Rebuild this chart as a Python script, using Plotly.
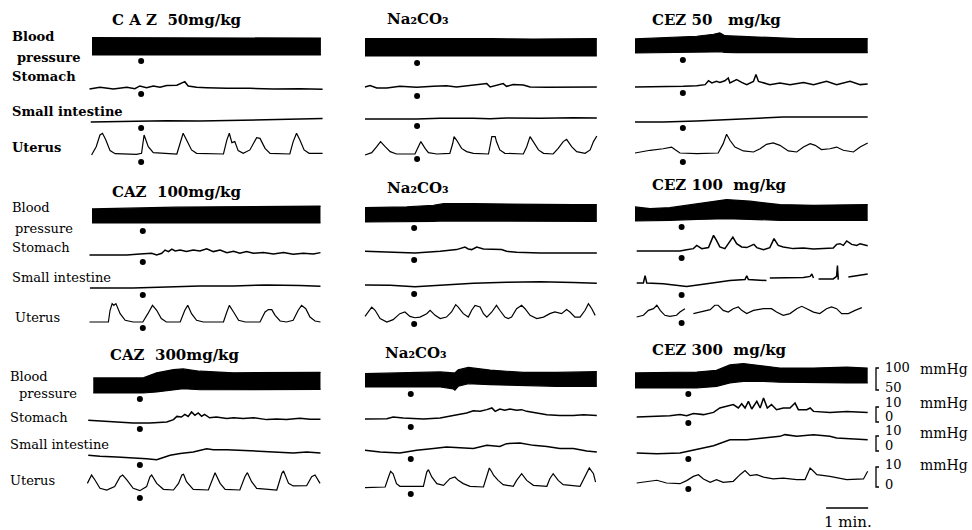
import plotly.graph_objects as go

W, H = 972, 530
FONT = "DejaVu Serif"

# ---------------- data (time in min, pressure in mmHg) ----------------
TITLES = ["C A Z  50mg/kg", "Na₂CO₃", "CEZ 50   mg/kg",
          "CAZ  100mg/kg", "Na₂CO₃", "CEZ 100  mg/kg",
          "CAZ  300mg/kg", "Na₂CO₃", "CEZ 300  mg/kg"]
ROW_LABELS = ["Blood", "pressure", "Stomach", "Small intestine", "Uterus"]
INJ_T = [1.17, 1.24, 1.14, 1.21, 1.17, 1.11, 1.14, 1.09, 1.27]

# CAZ 50 mg/kg
P11_BP_T = [0, 1.0, 2.0, 3.0, 4.0, 5.45]
P11_BP_TOP = [108, 108, 109, 108, 108, 107]
P11_BP_BOT = [60, 60, 60, 60, 60, 60]
P11_ST_T = [-0.06, 0.19, 0.51, 0.83, 1.02, 1.14, 1.30, 1.46, 1.62, 1.78, 2.02, 2.21, 2.29, 2.49, 2.73, 3.21, 3.76, 4.32, 4.95, 5.49]
P11_ST_V = [0, 1.0, 0, 1.0, 0.2, 1.8, 0.8, 1.8, 1.0, 2.0, 2.2, 4.3, 1.8, 1.0, 0.8, 0.4, 0.4, 0, 0.2, -0.2]
P11_SI_T = [-0.03, 0.98, 1.78, 2.57, 3.37, 4.16, 4.95, 5.49]
P11_SI_V = [0, 0.4, 0.8, 0.6, 1.0, 1.2, 1.6, 2.0]
P11_UT_T = [-0.01, 0.10, 0.19, 0.25, 0.33, 0.43, 0.55, 1.06, 1.18, 1.24, 1.34, 1.46, 2.02, 2.10, 2.17, 2.27, 2.37, 2.49,
            3.13, 3.21, 3.27, 3.33, 3.40, 3.48, 3.60, 3.76, 3.92, 4.00, 4.12, 4.24, 4.71, 4.79, 4.87, 4.95, 5.05, 5.17, 5.49]
P11_UT_V = [-0.6, 4.3, 11.2, 12.2, 8.2, 2.0, 0.2, -0.2, 0.4, 11.2, 4.3, 0.8, 0, 6.3, 12.2, 7.3, 2.4, 0.4,
            0, 8.2, 12.2, 6.7, 7.3, 2.0, 0.4, 2.4, 9.6, 9.2, 3.3, 0.4, 0, 7.3, 12.2, 8.2, 2.4, 0.4, 0.4]

# Na2CO3 (top)
P12_BP_T = [0, 1, 2, 3, 4, 5.52]
P12_BP_TOP = [108, 107, 108, 108, 107, 108]
P12_BP_BOT = [60, 60, 60, 60, 61, 60]
P12_ST_T = [0, 0.12, 0.28, 0.52, 0.83, 1.23, 1.63, 1.94, 2.18, 2.42, 2.66, 2.90, 2.98, 3.10, 3.29, 3.37, 3.53, 3.77, 3.93, 4.33, 4.96, 5.52]
P12_ST_V = [0, 0.8, -0.6, -0.6, 0.4, -0.2, 0.4, 0.8, 0, 0.8, 1.2, 2.0, 0, 0.8, 2.0, 0.4, 1.4, 1.2, 0, -0.2, 0, 0]
P12_SI_T = [0, 0.6, 1.23, 1.79, 2.18, 2.58, 2.98, 3.37, 4.17, 4.96, 5.52]
P12_SI_V = [0, -0.2, 0, 0.4, 0.6, 0.4, 0.2, 0.6, 0.4, 0.8, 0.6]
P12_UT_T = [0, 0.16, 0.28, 0.37, 0.48, 0.6, 0.75, 1.19, 1.25, 1.33, 1.43, 1.51, 1.71, 2.02, 2.09, 2.12, 2.18, 2.30, 2.42, 2.58,
            2.94, 2.98, 3.02, 3.10, 3.13, 3.21, 3.33, 3.77, 3.85, 3.93, 4.01, 4.13, 4.25, 4.48, 4.60, 4.72, 4.80, 4.92, 5.04,
            5.24, 5.36, 5.44, 5.52]
P12_UT_V = [-0.6, 0.8, 4.3, 7.3, 4.3, 1.4, 0, 0, 3.3, 7.3, 3.3, 0.8, 0, 0.4, 6.3, 10.2, 8.2, 3.3, 1.4, 0.4,
            0, 4.3, 10.2, 10.2, 7.3, 2.4, 0.4, 0, 4.3, 10.2, 7.3, 2.4, 0.4, 0, 3.3, 7.3, 8.6, 4.3, 1.4,
            0.4, 2.4, 7.3, 10.6]

# CEZ 50 mg/kg
P13_BP_T = [0, 0.67, 1.47, 1.87, 2.02, 2.14, 2.42, 3.06, 3.85, 4.64, 5.54]
P13_BP_TOP = [99, 102, 106.5, 112, 116, 108, 106.5, 103, 100, 100, 100]
P13_BP_BOT = [60, 61, 61, 63, 64, 62, 61, 61, 61, 61, 61]
P13_ST_T = [0, 0.36, 0.83, 1.15, 1.47, 1.67, 1.75, 1.83, 1.94, 2.02, 2.14, 2.22, 2.26, 2.42, 2.54, 2.66, 2.82, 2.88, 2.94,
            3.06, 3.21, 3.45, 3.69, 4.01, 4.25, 4.56, 4.80, 5.12, 5.36, 5.54]
P13_ST_V = [0, 0, 0, 0.4, 0.8, 1.4, 3.7, 2.4, 3.3, 2.7, 3.7, 5.3, 2.4, 4.3, 2.7, 1.4, 3.3, 7.3, 3.3,
            2.4, 1.4, 2.4, 1.4, 2.7, 1.4, 3.3, 1.4, 3.3, 1.4, 1.8]
P13_SI_T = [0, 0.67, 1.47, 2.26, 3.06, 3.53, 4.25, 5.04, 5.54]
P13_SI_V = [0, 0, 0.6, 1.4, 2.0, 2.9, 2.9, 2.9, 2.9]
P13_UT_T = [0, 0.36, 0.67, 0.87, 0.95, 1.07, 1.47, 1.98, 2.10, 2.18, 2.26, 2.38, 2.58, 2.82, 2.98, 3.13, 3.29, 3.45, 3.65,
            3.85, 4.01, 4.17, 4.29, 4.44, 4.64, 4.80, 4.96, 5.20, 5.36, 5.54]
P13_UT_V = [0, 1.6, 2.5, 3.5, 2.0, 0, -0.4, 0, 5.5, 11.0, 7.5, 3.5, 1.2, 0.6, 2.5, 5.1, 5.9, 4.5, 1.2,
            0.6, 3.5, 5.5, 4.5, 2.0, 2.5, 3.5, 1.6, 0.6, 3.5, 5.9]

# CAZ 100 mg/kg
P21_BP_T = [0, 1, 2, 3, 4, 5.44]
P21_BP_TOP = [99, 102, 104, 105, 106, 107]
P21_BP_BOT = [60, 60, 60, 60, 60, 60]
P21_ST_T = [-0.06, 0.35, 0.83, 1.14, 1.42, 1.54, 1.66, 1.74, 1.82, 1.90, 1.98, 2.10, 2.25, 2.41, 2.57, 2.73, 2.89, 3.05,
            3.21, 3.37, 3.52, 3.68, 3.84, 4.08, 4.32, 4.56, 4.79, 5.03, 5.27, 5.44]
P21_ST_V = [0, 0, 0, 0.6, 1.0, 0, 1.0, 2.9, 2.0, 3.5, 2.4, 2.9, 2.0, 2.9, 2.4, 3.7, 2.0, 2.9,
            1.4, 2.2, 1.0, 2.0, 1.0, 1.4, 0.6, 1.4, 0.4, 1.0, 0.6, 1.4]
P21_SI_T = [-0.05, 0.98, 1.78, 2.57, 3.37, 4.16, 4.95, 5.44]
P21_SI_V = [0, 0, 0.6, 1.2, 1.2, 1.8, 1.4, 1.0]
P21_UT_T = [-0.06, 0.39, 0.43, 0.48, 0.52, 0.57, 0.67, 0.79, 0.98, 1.21, 1.33, 1.44, 1.54, 1.65, 1.77, 2.10, 2.21, 2.28,
            2.37, 2.49, 2.65, 3.13, 3.21, 3.27, 3.37, 3.49, 3.65, 4.0, 4.12, 4.20, 4.28, 4.36, 4.48, 4.63, 4.79, 4.91,
            4.99, 5.09, 5.19, 5.31, 5.44]
P21_UT_V = [0, 0, 6.9, 10.8, 9.8, 10.8, 4.9, 1.0, 0, 0, 4.9, 9.8, 6.9, 2.0, 0, 0, 6.9, 9.8,
            4.9, 1.0, 0, 0, 5.9, 9.8, 5.9, 1.0, 0, 0, 5.9, 7.3, 7.3, 3.9, 0.6, 0, 1.0, 6.9,
            9.8, 7.8, 2.9, 0.6, 0]

# Na2CO3 (middle)
P22_BP_T = [0, 0.99, 1.63, 1.87, 2.58, 3.37, 4.17, 4.96, 5.52]
P22_BP_TOP = [100, 102, 106.5, 111, 111, 109, 109, 108, 108]
P22_BP_BOT = [60, 60, 62, 63, 63, 62, 62, 62, 62]
P22_ST_T = [0, 0.6, 1.19, 1.79, 2.18, 2.38, 2.46, 2.54, 2.66, 2.82, 3.06, 3.25, 3.37, 3.61, 4.17, 4.96, 5.52]
P22_ST_V = [1.0, 0.6, 0, 1.0, 2.0, 3.5, 2.4, 2.0, 3.5, 2.4, 2.0, 2.0, 1.0, 0.4, 0, 0, 0]
P22_SI_T = [0, 0.6, 1.19, 1.79, 2.58, 3.37, 3.77, 4.17, 4.96, 5.52]
P22_SI_V = [0.6, 0.4, -0.4, 0.6, 1.6, 2.2, 2.5, 2.5, 2.0, 1.6]
P22_UT_T = [0, 0.16, 0.24, 0.36, 0.52, 0.67, 0.83, 0.95, 1.07, 1.19, 1.31, 1.47, 1.55, 1.67, 1.79, 1.94, 2.06, 2.16,
            2.22, 2.34, 2.46, 2.54, 2.62, 2.74, 2.82, 2.90, 3.02, 3.10, 3.13, 3.21, 3.33, 3.41, 3.49, 3.61, 3.73,
            3.81, 3.93, 4.09, 4.25, 4.40, 4.52, 4.68, 4.80, 4.88, 5.00, 5.12, 5.24, 5.32, 5.40, 5.48]
P22_UT_V = [3.3, 8.8, 6.9, 2.0, 0, 1.4, 4.9, 5.9, 3.3, 2.5, 2.9, 4.9, 6.9, 3.9, 2.0, 2.9, 5.9, 10.2,
            8.8, 4.9, 2.9, 6.9, 9.8, 8.8, 4.9, 2.9, 5.9, 8.8, 9.8, 6.9, 2.9, 2.0, 2.9, 7.8, 9.8,
            7.8, 3.9, 2.0, 2.9, 4.9, 5.9, 4.9, 7.3, 5.9, 2.9, 2.9, 6.9, 10.8, 7.8, 3.9]

# CEZ 100 mg/kg
P23_BP_T = [0, 0.36, 0.83, 1.47, 2.18, 2.74, 3.45, 4.25, 5.04, 5.54]
P23_BP_TOP = [99, 94.4, 97, 108, 119.5, 115, 105.5, 103.5, 104.5, 105.5]
P23_BP_BOT = [60, 60, 62, 64.5, 66.5, 64.5, 62, 62, 62, 62]
P23_ST_T = [0.04, 0.52, 0.91, 1.07, 1.23, 1.39, 1.47, 1.59, 1.75, 1.87, 1.94, 2.02, 2.14, 2.26, 2.33, 2.42, 2.54, 2.66,
            2.74, 2.83, 2.90, 3.06, 3.21, 3.31, 3.41, 3.53, 3.77, 4.01, 4.25, 4.48, 4.72, 4.80, 4.88, 4.96, 5.04,
            5.16, 5.28, 5.36, 5.54]
P23_ST_V = [0, 0, 0.4, 0, 0.8, 1.4, 3.3, 1.4, 2.0, 9.2, 6.3, 2.4, 1.4, 5.3, 8.2, 4.3, 2.4, 2.0,
            2.7, 3.9, 2.0, 0.8, 2.0, 7.3, 3.3, 2.4, 1.4, 1.8, 1.2, 1.4, 1.8, 3.9, 4.3, 3.3, 5.9,
            3.9, 3.3, 4.3, 3.1]
P23_SI_T = [0.04, 0.2, 0.24, 0.28, 0.67, 1.23, 1.71, 2.26, 2.62, 2.66, 2.70, 3.13, None, 3.21, 3.69, 4.01, 4.17,
            4.21, 4.25, None, 4.37, 4.72, 4.80, 4.82, 4.84, None, 5.08, 5.28, 5.54]
P23_SI_V = [0, 0, 4.3, 0, -0.4, -2.0, -0.4, 1.4, 2.0, 4.3, 2.0, 1.4, None, 2.9, 3.3, 3.3, 3.9,
            5.3, 2.9, None, 2.4, 2.4, 3.9, 10.2, 2.0, None, 3.5, 4.3, 5.3]
P23_UT_T = [0.04, 0.2, 0.32, 0.44, 0.52, 0.60, 0.71, 0.83, 0.99, 1.07, 1.19, None, 1.39, 1.55, 1.79, 1.90, 1.98,
            2.10, 2.22, 2.34, 2.46, 2.54, 2.66, 2.82, 3.06, 3.25, 3.37, 3.53, 3.69, 3.85, 3.97, 4.09, 4.25,
            4.40, 4.56, 4.68, 4.80, 4.92, 5.08, 5.24, 5.40]
P23_UT_V = [0, 1.0, 3.9, 4.9, 6.9, 3.9, 1.0, 0.4, 1.0, 2.9, 4.9, None, 2.0, 2.9, 4.3, 6.9, 6.9,
            3.9, 2.9, 4.9, 5.9, 3.9, 2.0, 3.9, 4.9, 4.9, 2.9, 1.0, 2.0, 4.9, 6.3, 4.9, 2.9,
            2.0, 4.9, 5.9, 4.9, 2.0, 2.0, 3.9, 5.5]

# CAZ 300 mg/kg
P31_BP_T = [0.03, 0.59, 1.22, 1.54, 1.94, 2.17, 2.57, 3.37, 4.16, 5.44]
P31_BP_TOP = [102, 102, 102, 116, 125, 127, 120.5, 116, 116, 117.5]
P31_BP_BOT = [60, 60, 60, 63, 70, 72, 69, 69, 69, 70]
P31_ST_T = [-0.09, 0.19, 0.59, 0.98, 1.38, 1.78, 1.94, 2.02, 2.13, 2.21, 2.29, 2.37, 2.45, 2.53, 2.61, 2.68, 2.80,
            2.96, 3.21, 3.37, 3.60, 3.84, 4.16, 4.40, 4.63, 4.95, 5.19, 5.44]
P31_ST_V = [1.0, 0.6, 0, -0.6, -0.6, 0, 1.4, 3.3, 2.9, 4.5, 3.3, 5.9, 3.9, 5.3, 3.3, 4.5, 2.5,
            2.9, 2.0, 2.5, 2.0, 2.5, 1.4, 1.8, 1.4, 2.2, 1.6, 1.6]
P31_SI_T = [-0.09, 0.19, 0.59, 0.98, 1.30, 1.54, 1.70, 1.86, 2.10, 2.41, 2.73, 2.89, 3.21, 3.52, 3.84, 4.16, 4.56,
            4.79, 5.11, 5.44]
P31_SI_V = [1.0, 0.4, 0, -0.4, -1.0, -1.6, -0.4, 1.0, 2.0, 2.9, 4.9, 4.3, 4.3, 3.9, 3.9, 3.5, 2.9, 2.4, 2.9, 2.4]
P31_UT_T = [-0.11, -0.01, 0.07, 0.19, 0.35, 0.54, 0.67, 0.73, 0.83, 0.98, 1.14, 1.30, 1.38, 1.42, 1.54, 1.70, 1.94,
            2.06, 2.14, 2.18, 2.25, 2.41, 2.77, 2.89, 2.93, 3.05, 3.17, 3.52, 3.64, 3.70, 3.80, 3.92, 4.40, 4.52,
            4.56, 4.68, 4.79, 5.11, 5.23, 5.31, 5.43]
P31_UT_V = [3.9, 8.8, 5.9, 1.0, 0, 2.0, 7.8, 8.8, 5.9, 1.0, -0.4, 2.0, 7.8, 8.8, 3.9, 0.4, 0,
            3.9, 8.8, 9.2, 4.9, 0.4, 0, 7.8, 10.2, 3.9, 0.4, 0, 7.8, 10.2, 4.9, 1.0, 0, 9.8,
            11.2, 3.9, 2.4, 2.5, 7.8, 8.8, 3.9]

# Na2CO3 (bottom)
P32_BP_T = [0, 0.99, 1.79, 2.10, 2.14, 2.22, 2.46, 2.98, 3.77, 4.56, 5.52]
P32_BP_TOP = [97, 99, 102, 99, 99, 108, 114.5, 107, 100.5, 100.5, 102.5]
P32_BP_BOT = [60, 60, 60, 55, 51, 62, 69, 66.5, 64, 62, 62]
P32_ST_T = [0, 0.52, 0.67, 0.91, 1.39, 1.79, 2.10, 2.42, 2.58, 2.74, 2.90, 3.02, 3.10, 3.21, 3.33, 3.45, 3.61, 3.73,
            3.85, 4.01, 4.33, 4.64, 4.96, 5.20, 5.52]
P32_ST_V = [0, 0.2, 1.2, 0.6, 0, 0.6, 2.0, 3.5, 4.9, 4.5, 5.5, 6.5, 4.5, 5.9, 5.1, 5.9, 5.1, 5.5,
            4.5, 3.9, 2.5, 2.0, 2.0, 2.5, 2.0]
P32_SI_T = [0, 0.36, 0.83, 1.23, 1.63, 1.94, 2.26, 2.58, 2.90, 3.21, 3.37, 3.69, 4.01, 4.33, 4.64, 4.96, 5.28, 5.52]
P32_SI_V = [1.0, 0, -0.6, 1.0, 2.0, 2.9, 2.5, 2.0, 3.9, 3.3, 4.9, 5.3, 3.9, 3.3, 2.0, 2.0, 0.6, 0]
P32_UT_T = [0, 0.48, 0.56, 0.61, 0.67, 0.75, 0.83, 1.39, 1.47, 1.51, 1.59, 1.71, 1.87, 2.02, 2.14, 2.22, 2.34, 2.50,
            2.82, 2.90, 2.96, 3.02, 3.06, 3.17, 3.29, 3.53, 3.61, 3.73, 3.85, 4.01, 4.33, 4.40, 4.48, 4.60,
            4.72, 5.12, 5.24, 5.34, 5.44, 5.49]
P32_UT_V = [-0.4, 0, 5.9, 9.2, 7.8, 2.0, 0.4, 0.4, 8.8, 10.2, 5.9, 2.0, 1.0, 4.9, 5.9, 3.9, 2.0, 0.4,
            0, 5.9, 11.2, 8.8, 6.9, 3.9, 1.4, 0.4, 3.9, 7.8, 3.9, 1.0, 0.4, 4.9, 7.8, 3.9,
            1.4, 0.4, 5.9, 11.2, 7.8, 2.9]

# CEZ 300 mg/kg
P33_BP_T = [0, 0.67, 1.47, 1.94, 2.26, 2.58, 3.06, 3.45, 4.25, 5.04, 5.54]
P33_BP_TOP = [102, 103.5, 104.5, 109, 124, 128, 122, 115.5, 115.5, 118, 115.5]
P33_BP_BOT = [60, 60, 60, 64.5, 74, 78.5, 78.5, 76, 74, 74, 74]
P33_ST_T = [0.04, 0.52, 0.83, 1.07, 1.23, 1.39, 1.63, 1.87, 2.02, 2.18, 2.34, 2.46, 2.54, 2.62, 2.70, 2.78, 2.90,
            2.98, 3.06, 3.15, 3.25, 3.37, 3.53, 3.69, 3.81, 3.89, 4.09, 4.17, 4.25, 4.64, 5.04, 5.54]
P33_ST_V = [0, 0.4, 0.8, 1.4, 0.8, 2.0, 1.4, 2.7, 5.3, 6.3, 7.3, 5.3, 7.8, 5.3, 9.2, 4.7, 9.2,
            5.3, 11.2, 5.3, 7.3, 4.3, 5.3, 5.3, 8.2, 4.3, 4.3, 5.3, 3.3, 2.7, 3.3, 2.7]
P33_SI_T = [0.04, 0.52, 1.07, 1.47, 1.87, 2.26, 2.66, 3.06, 3.45, 3.57, 3.85, 4.25, 4.64, 4.80, 5.12, 5.54]
P33_SI_V = [0, -0.4, 0, 2.0, 4.3, 7.8, 7.8, 8.8, 9.8, 10.8, 9.8, 10.8, 9.8, 8.8, 8.2, 7.8]
P33_UT_T = [0.04, 0.28, 0.52, 0.75, 1.07, 1.23, 1.39, 1.51, 1.63, 1.79, 1.94, 2.10, 2.34, 2.50, 2.62, 2.74, 2.90,
            3.06, 3.29, 3.53, 3.85, 4.05, 4.17, 4.25, 4.33, 4.64, 5.04, 5.44, 5.54]
P33_UT_V = [0, 1.0, 1.6, 0, -0.4, 1.4, 3.9, 4.9, 2.4, 0.4, 2.0, 0.4, 1.0, 4.9, 7.3, 4.3, 4.9,
            3.5, 2.4, 2.9, 2.0, 2.0, 8.8, 6.9, 4.9, 3.9, 2.0, 2.4, 6.9]

SCALE_HI = ["100", "10", "10", "10"]
SCALE_LO = ["50", "0", "0", "0"]
SCALE_UNIT = "mmHg"
TIME_BAR_MIN = 1
TIME_LABEL = "1 min."

PANELS = [
    (P11_BP_T, P11_BP_TOP, P11_BP_BOT, P11_ST_T, P11_ST_V, P11_SI_T, P11_SI_V, P11_UT_T, P11_UT_V),
    (P12_BP_T, P12_BP_TOP, P12_BP_BOT, P12_ST_T, P12_ST_V, P12_SI_T, P12_SI_V, P12_UT_T, P12_UT_V),
    (P13_BP_T, P13_BP_TOP, P13_BP_BOT, P13_ST_T, P13_ST_V, P13_SI_T, P13_SI_V, P13_UT_T, P13_UT_V),
    (P21_BP_T, P21_BP_TOP, P21_BP_BOT, P21_ST_T, P21_ST_V, P21_SI_T, P21_SI_V, P21_UT_T, P21_UT_V),
    (P22_BP_T, P22_BP_TOP, P22_BP_BOT, P22_ST_T, P22_ST_V, P22_SI_T, P22_SI_V, P22_UT_T, P22_UT_V),
    (P23_BP_T, P23_BP_TOP, P23_BP_BOT, P23_ST_T, P23_ST_V, P23_SI_T, P23_SI_V, P23_UT_T, P23_UT_V),
    (P31_BP_T, P31_BP_TOP, P31_BP_BOT, P31_ST_T, P31_ST_V, P31_SI_T, P31_SI_V, P31_UT_T, P31_UT_V),
    (P32_BP_T, P32_BP_TOP, P32_BP_BOT, P32_ST_T, P32_ST_V, P32_SI_T, P32_SI_V, P32_UT_T, P32_UT_V),
    (P33_BP_T, P33_BP_TOP, P33_BP_BOT, P33_ST_T, P33_ST_V, P33_SI_T, P33_SI_V, P33_UT_T, P33_UT_V),
]

# ---------------- layout (pixels) ----------------
PANEL_X0 = [92, 365, 635]
BASE_PX = [[55, 89, 122, 154], [56, 87, 119, 154], [53, 87, 122, 153],
           [223, 255, 288, 322], [222, 253, 286, 322], [221, 251, 283, 317],
           [393, 422, 457, 490], [387, 419, 452, 487], [388, 417, 453, 483]]
DOT_PX = [[61, 94, 128, 162], [63, 96, 126, 159], [60, 93, 128, 162],
          [231, 262, 295, 328], [228, 260, 294, 324], [227, 258, 295, 323],
          [399, 429, 465, 498], [394, 427, 459, 494], [394, 423, 459, 489]]
TITLE_POS = [(110, 20), (385, 19), (650, 20), (110, 192), (385, 188), (650, 185),
             (108, 355), (383, 353), (650, 350)]
LABEL_POS = [[(10, 37), (15, 58), (10, 77), (10, 111), (10, 148)],
             [(10, 207), (13, 228), (10, 247), (10, 277), (13, 317)],
             [(8, 376), (17, 393), (8, 417), (8, 444), (8, 480)]]
BRACKETS = [(368, 390), (407, 422), (436, 451), (467, 487)]
HI_Y = [367, 402, 430, 464]
LO_Y = [387, 416, 445, 484]
UNIT_Y = [369, 403, 433, 465]

K_BP, K_GI, BP_REF = 0.36, 1.7, 60
UP, DOWN = 34, 16
X_LO, X_HI = -0.5, 5.7
PX_PER_MIN = 42


def pxx(x):
    return x / W


def pxy(y):
    return 1 - y / H


fig = go.Figure()
layout = {}
n = 0
for p, data in enumerate(PANELS):
    r, c = divmod(p, 3)
    x0 = PANEL_X0[c]
    xdom = [pxx(x0 + X_LO * PX_PER_MIN), pxx(x0 + X_HI * PX_PER_MIN)]
    bt, btop, bbot, st_t, st_v, si_t, si_v, ut_t, ut_v = data
    gi = {1: (st_t, st_v), 2: (si_t, si_v), 3: (ut_t, ut_v)}
    for row in range(4):
        n += 1
        k = K_BP if row == 0 else K_GI
        ref = BP_REF if row == 0 else 0
        b = BASE_PX[p][row]
        sfx = "" if n == 1 else str(n)
        layout["xaxis" + sfx] = dict(domain=xdom, range=[X_LO, X_HI], visible=False,
                                     anchor="y" + sfx, fixedrange=True)
        layout["yaxis" + sfx] = dict(domain=[pxy(b + DOWN), pxy(b - UP)],
                                     range=[ref - DOWN / k, ref + UP / k], visible=False,
                                     anchor="x" + sfx, fixedrange=True)
        xa, ya = "x" + sfx, "y" + sfx
        common = dict(xaxis=xa, yaxis=ya, showlegend=False, hoverinfo="skip")
        if row == 0:
            fig.add_trace(go.Scatter(x=bt, y=bbot, mode="lines",
                                     line=dict(color="black", width=1.2), **common))
            fig.add_trace(go.Scatter(x=bt, y=btop, mode="lines", fill="tonexty",
                                     fillcolor="black",
                                     line=dict(color="black", width=1.2), **common))
        else:
            t, v = gi[row]
            fig.add_trace(go.Scatter(x=t, y=v, mode="lines", connectgaps=False,
                                     line=dict(color="black", width=1.5 if row < 3 else 1.2),
                                     **common))
        dy = ref + (b - DOT_PX[p][row]) / k
        fig.add_trace(go.Scatter(x=[INJ_T[p]], y=[dy], mode="markers",
                                 marker=dict(color="black", size=6), **common))

annotations = []
for p, title in enumerate(TITLES):
    x, y = TITLE_POS[p]
    annotations.append(dict(x=pxx(x), y=pxy(y), xref="paper", yref="paper",
                            text="<b>%s</b>" % title,
                            showarrow=False, xanchor="left", yanchor="middle",
                            font=dict(family=FONT, size=15, color="black")))
for r in range(3):
    for i, lab in enumerate(ROW_LABELS):
        x, y = LABEL_POS[r][i]
        txt = "<b>%s</b>" % lab if r == 0 else lab
        annotations.append(dict(x=pxx(x), y=pxy(y), xref="paper", yref="paper", text=txt,
                                showarrow=False, xanchor="left", yanchor="middle",
                                font=dict(family=FONT, size=13, color="black")))

shapes = []
for i, (ya, yb) in enumerate(BRACKETS):
    xb = 876
    path = "M %f %f L %f %f L %f %f L %f %f" % (pxx(xb + 3), pxy(ya), pxx(xb), pxy(ya),
                                                 pxx(xb), pxy(yb), pxx(xb + 3), pxy(yb))
    shapes.append(dict(type="path", path=path, xref="paper", yref="paper",
                       line=dict(color="black", width=1.3)))
    annotations.append(dict(x=pxx(883), y=pxy(HI_Y[i]), xref="paper", yref="paper",
                            text=SCALE_HI[i], showarrow=False, xanchor="left", yanchor="middle",
                            font=dict(family=FONT, size=13, color="black")))
    annotations.append(dict(x=pxx(883), y=pxy(LO_Y[i]), xref="paper", yref="paper",
                            text=SCALE_LO[i], showarrow=False, xanchor="left", yanchor="middle",
                            font=dict(family=FONT, size=13, color="black")))
    annotations.append(dict(x=pxx(918), y=pxy(UNIT_Y[i]), xref="paper", yref="paper",
                            text=SCALE_UNIT, showarrow=False, xanchor="left", yanchor="middle",
                            font=dict(family=FONT, size=14, color="black")))

# 1-minute time bar drawn on the last panel's time axis
shapes.append(dict(type="line", xref="x36", yref="paper", x0=4.55, x1=4.55 + TIME_BAR_MIN,
                   y0=pxy(508), y1=pxy(508), line=dict(color="black", width=1.5)))
annotations.append(dict(x=pxx(848), y=pxy(522), xref="paper", yref="paper", text=TIME_LABEL,
                        showarrow=False, xanchor="center", yanchor="middle",
                        font=dict(family=FONT, size=15, color="black")))

fig.update_layout(width=W, height=H, margin=dict(l=0, r=0, t=0, b=0),
                  paper_bgcolor="white", plot_bgcolor="rgba(0,0,0,0)",
                  annotations=annotations, shapes=shapes, **layout)
fig.write_html("out.html")
